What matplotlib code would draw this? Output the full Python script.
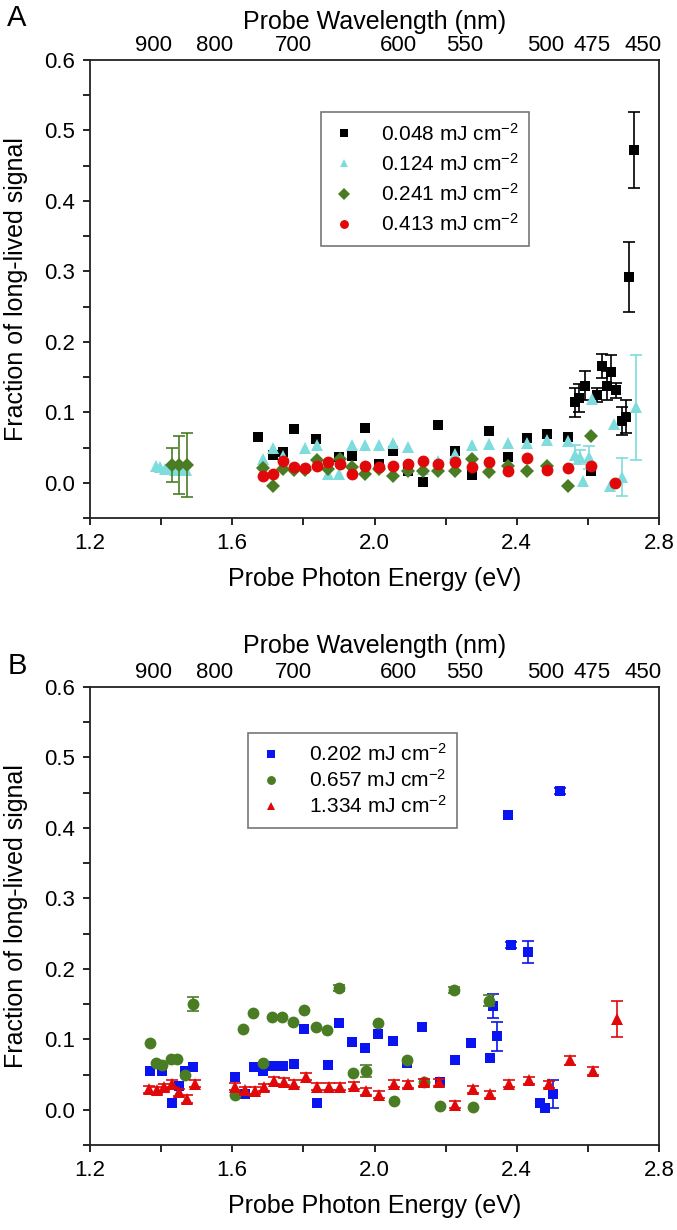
import numpy as np
import matplotlib
matplotlib.use('Agg')
import matplotlib.pyplot as plt
from matplotlib.ticker import MultipleLocator, FixedLocator

plt.rcParams['font.family'] = ['Liberation Sans', 'DejaVu Sans']
plt.rcParams['mathtext.default'] = 'regular'

# ---- panel A data (probe energy eV, fraction, error) ----
eA_048 = [1.672, 1.715, 1.743, 1.774, 1.836, 1.900, 1.937, 1.974, 2.012, 2.052, 2.094, 2.135,
          2.178, 2.225, 2.273, 2.323, 2.374, 2.430, 2.485, 2.545, 2.564, 2.575, 2.592, 2.610,
          2.627, 2.640, 2.654, 2.665, 2.680, 2.695, 2.706, 2.716, 2.730]
fA_048 = [0.065, 0.039, 0.043, 0.076, 0.062, 0.036, 0.038, 0.078, 0.027, 0.045, 0.017, 0.001,
          0.082, 0.045, 0.011, 0.073, 0.037, 0.064, 0.069, 0.065, 0.114, 0.120, 0.138, 0.017,
          0.124, 0.166, 0.138, 0.157, 0.131, 0.088, 0.094, 0.292, 0.472]
sA_048 = [0, 0, 0, 0, 0, 0, 0, 0, 0, 0, 0, 0,
          0, 0, 0, 0, 0, 0, 0, 0, 0.020, 0.020, 0.020, 0,
          0.010, 0.017, 0.020, 0.025, 0.010, 0.020, 0.024, 0.049, 0.054]

eA_124 = [1.385, 1.398, 1.410, 1.423, 1.440, 1.455, 1.470, 1.687, 1.715, 1.743, 1.805, 1.837,
          1.870, 1.901, 1.937, 1.974, 2.012, 2.052, 2.094, 2.135, 2.178, 2.225, 2.273, 2.323,
          2.374, 2.430, 2.485, 2.545, 2.563, 2.578, 2.587, 2.603, 2.611, 2.662, 2.674, 2.695, 2.735]
fA_124 = [0.024, 0.022, 0.019, 0.021, 0.018, 0.020, 0.018, 0.034, 0.049, 0.038, 0.050, 0.053,
          0.012, 0.013, 0.053, 0.053, 0.053, 0.056, 0.051, 0.020, 0.031, 0.041, 0.054, 0.055,
          0.056, 0.056, 0.061, 0.059, 0.040, 0.036, 0.003, 0.036, 0.119, -0.004, 0.083, 0.008, 0.107]
sA_124 = [0, 0, 0, 0, 0, 0, 0, 0, 0, 0, 0, 0,
          0, 0, 0, 0, 0, 0, 0, 0, 0, 0, 0, 0,
          0, 0, 0, 0, 0.014, 0.010, 0, 0.016, 0, 0, 0, 0.027, 0.075]

eA_241 = [1.431, 1.450, 1.472, 1.687, 1.715, 1.743, 1.774, 1.805, 1.837, 1.870, 1.903, 1.937,
          1.974, 2.012, 2.052, 2.094, 2.135, 2.178, 2.225, 2.273, 2.323, 2.374, 2.430, 2.485,
          2.545, 2.610]
fA_241 = [0.025, 0.025, 0.025, 0.021, -0.004, 0.019, 0.018, 0.018, 0.033, 0.019, 0.034, 0.023,
          0.013, 0.019, 0.009, 0.017, 0.017, 0.016, 0.016, 0.034, 0.015, 0.024, 0.016, 0.024,
          -0.004, 0.067]
sA_241 = [0.024, 0.041, 0.045, 0, 0, 0, 0, 0, 0, 0, 0, 0,
          0, 0, 0, 0, 0, 0, 0, 0, 0, 0, 0, 0,
          0, 0]

eA_413 = [1.687, 1.715, 1.743, 1.774, 1.805, 1.837, 1.870, 1.903, 1.937, 1.974, 2.012, 2.052,
          2.094, 2.135, 2.178, 2.225, 2.273, 2.323, 2.374, 2.430, 2.485, 2.545, 2.610, 2.675]
fA_413 = [0.009, 0.012, 0.031, 0.022, 0.021, 0.024, 0.029, 0.027, 0.013, 0.024, 0.023, 0.024,
          0.026, 0.031, 0.026, 0.029, 0.022, 0.029, 0.016, 0.035, 0.018, 0.021, 0.024, -0.001]

# ---- panel B data ----
eB_202 = [1.370, 1.403, 1.430, 1.451, 1.468, 1.490, 1.607, 1.637, 1.660, 1.686, 1.714, 1.742,
          1.773, 1.803, 1.837, 1.869, 1.900, 1.937, 1.973, 2.011, 2.051, 2.092, 2.134, 2.185,
          2.225, 2.272, 2.324, 2.333, 2.344, 2.375, 2.385, 2.431, 2.465, 2.480, 2.502, 2.522]
fB_202 = [0.055, 0.055, 0.010, 0.034, 0.055, 0.061, 0.047, 0.023, 0.061, 0.055, 0.062, 0.062,
          0.065, 0.115, 0.009, 0.064, 0.123, 0.096, 0.088, 0.107, 0.098, 0.066, 0.117, 0.039,
          0.071, 0.095, 0.073, 0.147, 0.104, 0.419, 0.234, 0.224, 0.010, 0.003, 0.022, 0.452]
sB_202 = [0, 0, 0, 0, 0, 0, 0, 0, 0, 0, 0, 0,
          0, 0, 0, 0, 0, 0, 0, 0, 0, 0, 0, 0,
          0, 0, 0, 0.017, 0.021, 0, 0.004, 0.015, 0, 0, 0.020, 0.004]

eB_657 = [1.368, 1.385, 1.403, 1.427, 1.446, 1.468, 1.490, 1.608, 1.631, 1.657, 1.686, 1.712,
          1.740, 1.772, 1.803, 1.835, 1.867, 1.900, 1.939, 1.975, 2.011, 2.054, 2.092, 2.138,
          2.183, 2.224, 2.277, 2.322]
fB_657 = [0.095, 0.067, 0.063, 0.072, 0.072, 0.050, 0.150, 0.021, 0.115, 0.138, 0.066, 0.132,
          0.132, 0.125, 0.142, 0.118, 0.113, 0.173, 0.052, 0.055, 0.123, 0.012, 0.071, 0.039,
          0.006, 0.170, 0.004, 0.155]
sB_657 = [0, 0, 0, 0, 0, 0, 0.010, 0, 0, 0, 0, 0,
          0, 0, 0, 0, 0, 0.004, 0, 0.008, 0, 0, 0, 0,
          0, 0.004, 0, 0.008]

eB_1334 = [1.367, 1.387, 1.407, 1.430, 1.451, 1.472, 1.494, 1.609, 1.637, 1.665, 1.689, 1.716,
           1.745, 1.774, 1.806, 1.837, 1.872, 1.904, 1.941, 1.977, 2.014, 2.054, 2.093, 2.139,
           2.182, 2.227, 2.277, 2.325, 2.379, 2.434, 2.490, 2.550, 2.614, 2.681]
fB_1334 = [0.029, 0.028, 0.032, 0.037, 0.025, 0.015, 0.037, 0.033, 0.028, 0.027, 0.032, 0.041,
           0.040, 0.037, 0.047, 0.033, 0.033, 0.033, 0.034, 0.026, 0.021, 0.037, 0.036, 0.039,
           0.039, 0.007, 0.029, 0.022, 0.037, 0.042, 0.036, 0.070, 0.055, 0.129]
sB_1334 = [0.005, 0.005, 0.005, 0.005, 0.005, 0.006, 0.005, 0.005, 0.005, 0.005, 0.005, 0.005,
           0.005, 0.005, 0.005, 0.005, 0.005, 0.005, 0.005, 0.005, 0.005, 0.005, 0.005, 0.005,
           0.005, 0.005, 0.005, 0.005, 0.005, 0.005, 0.005, 0.006, 0.006, 0.026]

wavelengths = [900, 800, 700, 600, 550, 500, 475, 450]

lab = ' mJ cm$^{-2}$'


def series(ax, e, f, s, marker, color, label, ms):
    e = np.array(e)
    f = np.array(f)
    if s is not None:
        s = np.array(s)
        k = s > 0
        ax.errorbar(e[k], f[k], yerr=s[k], fmt='none', ecolor=color, elinewidth=1.2,
                    capsize=4, capthick=1.2)
    ax.plot(e, f, linestyle='none', marker=marker, color=color, ms=ms, mew=0, label=label)


def setup(ax, legend_anchor, title_pad, spacing):
    ax.set_xlim(1.2, 2.8)
    ax.set_ylim(-0.05, 0.6)
    ax.xaxis.set_major_locator(MultipleLocator(0.4))
    ax.xaxis.set_minor_locator(MultipleLocator(0.2))
    ax.yaxis.set_major_locator(MultipleLocator(0.1))
    ax.yaxis.set_minor_locator(MultipleLocator(0.05))
    ax.xaxis.set_major_formatter(plt.FormatStrFormatter('%.1f'))
    ax.yaxis.set_major_formatter(plt.FormatStrFormatter('%.1f'))
    ax.tick_params(which='both', direction='out', length=5, width=1.2, labelsize=16, pad=6,
                   top=False, right=False)
    for sp in ax.spines.values():
        sp.set_linewidth(1.3)
        sp.set_color('#222222')
    ax.set_xlabel('Probe Photon Energy (eV)', fontsize=18, labelpad=9)
    ax.set_ylabel('Fraction of long-lived signal', fontsize=18, labelpad=11)

    top = ax.twiny()
    top.set_xlim(1.2, 2.8)
    top.xaxis.set_major_locator(FixedLocator([1240.0 / w for w in wavelengths]))
    top.set_xticklabels([str(w) for w in wavelengths])
    top.xaxis.set_minor_locator(FixedLocator([]))
    top.tick_params(axis='x', length=0, labelsize=16, pad=3)
    top.set_xlabel('Probe Wavelength (nm)', fontsize=18, labelpad=title_pad)
    for sp in top.spines.values():
        sp.set_visible(False)

    leg = ax.legend(loc='upper left', bbox_to_anchor=legend_anchor, borderaxespad=0,
                    fontsize=15, frameon=True, fancybox=False, markerscale=0.75,
                    handlelength=1.2, handletextpad=1.2, labelspacing=spacing,
                    borderpad=0.5)
    leg.get_frame().set_edgecolor('#555555')
    leg.get_frame().set_linewidth(1.2)


fig = plt.figure(figsize=(6.77, 12.30), dpi=100)
axA = fig.add_axes([90 / 677, 1 - 518 / 1230, 569 / 677, 458 / 1230])
axB = fig.add_axes([90 / 677, 1 - 1145 / 1230, 569 / 677, 458 / 1230])

series(axA, eA_048, fA_048, sA_048, 's', 'black', '0.048' + lab, 7.5)
series(axA, eA_124, fA_124, sA_124, '^', '#7fdcdc', '0.124' + lab, 8.5)
series(axA, eA_241, fA_241, sA_241, 'D', '#4a7d23', '0.241' + lab, 7.5)
series(axA, eA_413, fA_413, None, 'o', '#e00808', '0.413' + lab, 8.5)
setup(axA, (0.406, 0.886), 4, 0.4)

series(axB, eB_202, fB_202, sB_202, 's', '#0a14f0', '0.202' + lab, 7.5)
series(axB, eB_657, fB_657, sB_657, 'o', '#4a7d23', '0.657' + lab, 8.5)
series(axB, eB_1334, fB_1334, sB_1334, '^', '#e00808', '1.334' + lab, 8.5)
setup(axB, (0.278, 0.900), 6, 0.2)

fig.text(17 / 677, 1 - 18 / 1230, 'A', fontsize=21, ha='center', va='center')
fig.text(17 / 677, 1 - 666 / 1230, 'B', fontsize=21, ha='center', va='center')

fig.savefig('out.png', dpi=100)
